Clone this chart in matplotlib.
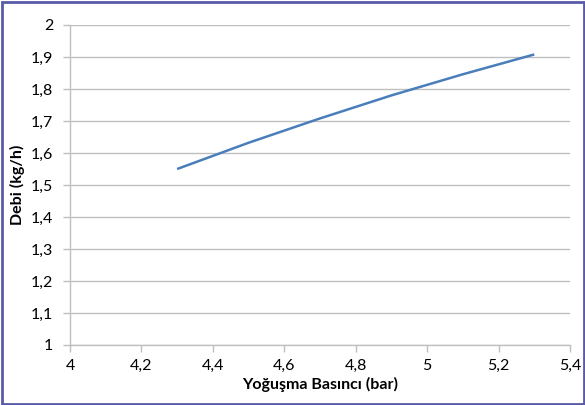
import matplotlib
matplotlib.use("Agg")
import matplotlib.pyplot as plt
from matplotlib.patches import Rectangle
from matplotlib.ticker import FuncFormatter

x_vals = [4.3, 4.5, 4.7, 4.9, 5.1, 5.3]
debi = [1.55, 1.632, 1.708, 1.780, 1.846, 1.908]
x_ticks = [4.0, 4.2, 4.4, 4.6, 4.8, 5.0, 5.2, 5.4]
y_ticks = [1.0, 1.1, 1.2, 1.3, 1.4, 1.5, 1.6, 1.7, 1.8, 1.9, 2.0]

plt.rcParams['font.family'] = ['Lato', 'DejaVu Sans']

W, H = 585, 405
fig = plt.figure(figsize=(W / 100, H / 100), dpi=100)
ax = fig.add_axes([70 / W, 1 - 345 / H, 500 / W, 320 / H])

ax.plot(x_vals, debi, color='#4a7ebb', lw=1.8, solid_capstyle='butt',
        solid_joinstyle='round')

ax.set_xlim(4.0, 5.4)
ax.set_ylim(1.0, 2.0)
ax.set_xticks(x_ticks)
ax.set_yticks(y_ticks)

def fmt(v, pos):
    s = ('%.1f' % v).rstrip('0').rstrip('.')
    return s.replace('.', ',')

ax.xaxis.set_major_formatter(FuncFormatter(fmt))
ax.yaxis.set_major_formatter(FuncFormatter(fmt))

ax.grid(axis='y', color='#bfbfbf', lw=1)
ax.set_axisbelow(True)
for s in ['top', 'right']:
    ax.spines[s].set_visible(False)
for s in ['left', 'bottom']:
    ax.spines[s].set_color('#bfbfbf')
    ax.spines[s].set_linewidth(1)
ax.tick_params(axis='both', colors='#bfbfbf', labelcolor='black', length=5,
               width=1, labelsize=11.5, direction='out')
ax.tick_params(axis='x', pad=5)
ax.tick_params(axis='y', pad=7)

ax.set_xlabel('Yoğuşma Basıncı (bar)', fontsize=11.5, fontweight='bold', labelpad=3)
ax.set_ylabel('Debi (kg/h)', fontsize=11.5, fontweight='bold', labelpad=4)

fig.patches.append(Rectangle((1.5 / W, 1.5 / H), 1 - 3 / W, 1 - 3 / H,
                             transform=fig.transFigure, fill=False,
                             edgecolor='#5a5aa8', lw=2))

fig.savefig('out.png', dpi=100)
